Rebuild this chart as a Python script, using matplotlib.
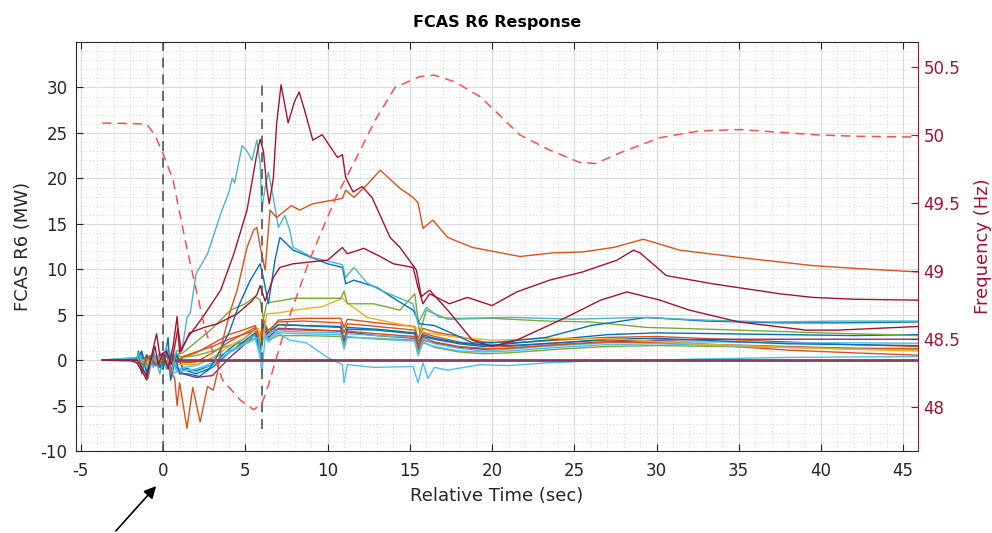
import matplotlib.pyplot as plt
from matplotlib.ticker import MultipleLocator

plt.rcParams['font.family'] = ['DejaVu Sans']
plt.rcParams['axes.unicode_minus'] = False

# MATLAB default line colours
BLU = '#0072BD'
ORA = '#D95319'
YEL = '#EDB120'
PUR = '#7E2F8E'
GRN = '#77AC30'
CYA = '#4DBEEE'
RED = '#A2142F'
TEAL = '#4AB6C6'

# ---- big individual responses (time s, MW) ----
red_big = [(-3.7, 0), (-2, 0), (-1.6, -0.3), (-1.2, -1.5), (-1.0, -2.2), (-0.8, -0.3),
           (-0.5, 1.5), (-0.3, -0.5), (0, 0.8), (0.3, -1), (0.6, 1.5), (0.85, 4.8),
           (1.0, 0.8), (1.5, 2.5), (2.4, 4.7), (3.5, 7.7), (4.3, 11.7), (5.1, 16.5),
           (5.7, 22.7), (5.9, 24.3), (6.1, 23), (6.3, 19), (6.45, 17.2), (6.7, 20),
           (6.9, 26), (7.17, 30.3), (7.6, 26.1), (8.0, 28.5), (8.27, 29.5), (8.6, 27.5),
           (9.1, 24.2), (9.67, 24.8), (10.6, 22.3), (10.9, 22.6), (11.1, 20.1),
           (11.55, 18.5), (12.1, 19.1), (12.7, 17.9), (13.8, 13.5), (14.4, 12.4),
           (15.4, 9.9), (15.7, 7.0), (16.2, 7.7), (17.3, 5.5), (18.8, 2.2), (20, 1.5),
           (21.5, 2.2), (24.5, 4.7), (26.6, 6.6), (28.2, 7.5), (30.2, 6.6), (32, 5.5),
           (35, 4.2), (39.1, 3.3), (41, 3.3), (45.9, 3.7)]

red_mid = [(-3.7, 0), (-1.6, 0), (-1.3, -0.8), (-1.0, -1.8), (-0.7, 0.5), (-0.4, 2.9),
           (-0.2, 0.5), (0.2, 1), (0.5, -0.5), (0.9, 3.5), (1.1, 1), (1.6, 3), (2.5, 3.6),
           (3.3, 4), (4.5, 5.1), (5.4, 6.5), (5.7, 7.2), (5.9, 8.2), (6.2, 6.5),
           (6.7, 9.1), (7.1, 10.2), (7.9, 10.6), (10, 11), (10.9, 12.4), (11.2, 11.7),
           (12.2, 12.3), (13.2, 11.4), (14, 10.6), (15.2, 10.2), (15.5, 8),
           (15.8, 6.2), (16.2, 7.3), (17.4, 6.2), (18.5, 6.9), (20, 6), (21.5, 7.5),
           (23.5, 8.8), (25.5, 9.7), (27.6, 11), (28.6, 12.1), (29, 11.8), (30.6, 9.3),
           (33.4, 8.4), (37.5, 7.3), (39.5, 6.9), (42, 6.7), (45.9, 6.6)]

orange_big = [(-3.7, 0), (-1.6, 0), (-1.2, -0.5), (-0.8, 0.5), (-0.4, -0.5), (0, 0.5),
              (0.4, -1), (0.7, -2), (0.85, -5), (1.0, -2.5), (1.45, -7.5), (1.8, -3),
              (2.25, -6.8), (2.7, -2.9), (3.05, -3.3), (3.3, -1.4), (3.6, 2), (4.1, 5.5),
              (4.5, 7.7), (5.1, 12.4), (5.5, 14.3), (5.7, 14.6), (5.9, 12.5), (6.2, 9.9),
              (6.5, 16.5), (6.9, 15.7), (7.8, 17), (8.3, 16.5), (9.1, 17.2), (10.9, 17.8),
              (11.1, 18.7), (11.6, 17.9), (12.5, 19.5), (13.2, 20.9), (14.4, 18.9),
              (15.2, 17.9), (15.5, 17.3), (15.8, 14.5), (16.4, 15.4), (17.3, 13.5),
              (18.8, 12.4), (21.7, 11.4), (23.7, 11.8), (25.5, 11.9), (27.4, 12.4),
              (29.2, 13.3), (31.4, 12.1), (35.5, 11.2), (39.5, 10.4), (42, 10.1),
              (45.9, 9.7)]

teal_big = [(-3.7, 0), (-1.6, 0), (-1.5, 0.8), (-1.2, -1), (-0.9, -2), (-0.6, 1),
            (-0.2, -1.5), (0.2, 1.5), (0.5, -1.5), (0.8, 1), (1.15, 1.1), (1.45, 4.7),
            (1.65, 5.2), (2.0, 9.5), (2.7, 11.7), (3.5, 16.1), (4.0, 18.5), (4.2, 20),
            (4.35, 19.5), (4.8, 23.6), (5.1, 23), (5.4, 22), (5.7, 24.2), (5.9, 21.6),
            (6.0, 16.5), (6.2, 19), (6.4, 20.7), (6.7, 17.9), (7.0, 14.6), (7.4, 15.9),
            (7.7, 14.3), (7.9, 12.4), (9.1, 11.3), (10.9, 10.5), (11.1, 9.1),
            (11.6, 10.2), (12.4, 8.5), (13.2, 7.7), (14.4, 6.8), (15.2, 6.2),
            (15.5, 4), (16, 5.8), (16.8, 4.7), (18, 4.6), (21.3, 4.7), (25, 4.5),
            (29, 4.7), (33, 4.4), (37, 4.2), (41, 4.3), (45.9, 4.3)]

blue_big = [(-3.7, 0), (-1.6, 0), (-1.5, 1.0), (-1.3, -1.5), (-1.0, 0.5), (-0.5, -0.5),
            (0, -1), (0.3, 2.5), (0.45, -2.2), (0.7, 0.5), (1, -1.5), (1.5, -1.5),
            (2.2, -1.8), (2.8, -1), (3.3, 0.5), (4, 3), (4.6, 6), (5.3, 8.8),
            (5.9, 10.6), (6.1, 9), (6.4, 6.2), (6.8, 11), (7.1, 13.5), (7.9, 12.1),
            (10, 10.6), (10.9, 10.2), (11.1, 8.4), (11.6, 8.8), (13, 8), (14.2, 6.6),
            (15.2, 5.5), (15.6, 4), (16.5, 3.8), (17.5, 3), (18.8, 1.9), (20, 1.9),
            (23.3, 2.5), (26, 3.8), (29.4, 4.7), (33, 4.3), (37.5, 4.1), (41, 4.1),
            (45.9, 4.2)]

green_top = [(-3.7, 0), (-1.6, 0), (-1.2, -0.8), (-0.8, 0.5), (0, -0.5), (0.5, 0.5),
             (1.2, 0.8), (2, 2), (3, 3.5), (4.1, 5.5), (5, 6.2), (5.6, 7), (5.9, 6.6),
             (6.1, 4.5), (6.3, 6.3), (7, 6.5), (8, 6.8), (10.8, 6.8), (11, 7.6),
             (11.2, 6.2), (12.8, 6.2), (14.4, 5.5), (15.3, 7.3), (15.6, 3), (16, 5.5),
             (17.3, 4.5), (20, 4.6), (23.3, 4.3), (26, 4.2), (29.4, 3.6), (35, 3.3),
             (40, 3), (45.9, 2.7)]

yellow = [(-3.7, 0), (-1.5, 0), (0, 0), (1, -0.5), (2, -0.5), (3, 0.3), (4, 1.5),
          (5, 2.5), (5.8, 3.5), (6.0, 1.5), (6.3, 5.1), (7, 5.2), (8, 5.5), (9.7, 5.9),
          (10.9, 6.8), (11.2, 6.3), (12.4, 4.7), (14.8, 3.8), (15.5, 3.5), (16, 3),
          (18, 2.5), (20, 2.2), (24, 2.4), (28, 2.3), (32, 1.8), (38, 1.4), (45.9, 1.0)]

cyan_low = [(-3.7, 0), (-1.5, 0.3), (-1, -0.8), (0, 0.5), (0.5, -1.5), (1, -1.2),
            (2, -1), (3, -0.5), (4, 0.8), (5, 1.8), (5.8, 2.5), (6.0, -1.5), (6.2, 2.5),
            (6.7, 3.3), (7.7, 2.2), (8.7, 1.9), (10, 0.3), (10.9, -0.5), (11.0, -2.5),
            (11.2, -0.5), (12.8, -0.8), (15.2, -0.7), (15.5, -2.5), (15.8, -0.3),
            (16.1, -2.0), (16.5, -0.8), (17.3, -1.1), (19.3, -0.5), (21, -0.6),
            (23.3, -0.3), (26, -0.1), (30, 0), (32, 0.1), (38, 0.3), (45.9, 0.4)]

# ---- bundle of smaller responses on a shared time base ----
t_bundle = [-3.7, -1.6, -1.3, -1.0, -0.6, -0.2, 0.2, 0.5, 0.8, 1.2, 2.0, 3.0, 4.0, 5.0,
            5.6, 5.9, 6.1, 6.4, 7.0, 8.5, 10.8, 11.0, 11.2, 13.0, 15.3, 15.5, 15.8, 16.5,
            18.0, 19.5, 21.0, 24.0, 27.0, 30.0, 34.0, 38.0, 42.0, 45.9]
b_orange1 = [0, 0, -0.4, 0.6, -0.3, 0.4, -0.6, 0.8, -0.5, 0.3, 0.8, 1.8, 2.8, 3.4, 3.8, 2.5,
             4.5, 3.0, 4.4, 4.6, 4.6, 3.6, 4.5, 4.1, 3.7, 2.4, 3.5, 3.1, 2.6, 2.0, 1.9, 2.2,
             2.5, 2.6, 2.3, 2.0, 1.7, 1.5]
b_orange2 = [0, 0, 0.3, -0.8, 0.5, -0.4, 0.6, -1.0, 0.4, -0.3, -0.2, 0.8, 2.0, 3.0, 3.6, 2.0,
             4.0, 3.3, 4.2, 4.3, 4.1, 3.0, 4.0, 3.7, 3.3, 2.0, 3.0, 2.6, 2.0, 1.6, 1.5, 1.9,
             2.2, 2.1, 1.6, 1.1, 0.8, 0.55]
b_blue1 = [0, 0.2, 1.0, -1.2, 0.8, -0.6, 1.2, -1.5, 0.5, -0.8, -1.2, -0.5, 1.2, 2.5, 3.4, 1.5,
           3.8, 2.8, 3.9, 3.8, 3.6, 2.0, 3.4, 3.3, 2.9, 1.5, 2.6, 2.3, 1.8, 1.5, 1.8, 2.3,
           2.8, 3.0, 2.9, 2.8, 2.7, 2.8]
b_purple = [0, 0, -0.3, 0.4, -0.2, 0.3, -0.5, 0.2, -0.8, -1.5, -1.9, -1.7, 0.2, 1.8, 2.8, 1.0,
            3.4, 2.5, 3.5, 3.4, 3.2, 2.0, 3.1, 2.7, 2.4, 1.2, 2.2, 1.9, 1.4, 1.2, 1.3, 1.7,
            2.0, 2.2, 2.3, 2.3, 2.3, 2.3]
b_cyan1 = [0, -0.2, 0.5, -0.9, 0.3, 0.6, -1.0, 1.0, -0.7, -1.2, -1.0, -0.3, 0.8, 2.0, 2.8, 0.5,
           3.1, 2.3, 3.2, 3.1, 3.0, 1.5, 2.9, 2.7, 2.5, 0.8, 2.3, 1.8, 1.3, 1.0, 1.2, 1.6,
           1.9, 2.0, 2.0, 1.9, 1.9, 1.85]
b_green = [0, 0, 0.2, -0.5, 0.3, -0.2, 0.4, -0.3, 0.6, 0.3, 0.5, 1.0, 1.6, 2.0, 2.4, 1.0,
           2.6, 2.2, 2.7, 2.7, 2.6, 1.8, 2.5, 2.4, 2.2, 0.8, 2.0, 1.4, 0.9, 0.7, 0.8, 1.2,
           1.5, 1.6, 1.5, 1.4, 1.3, 1.3]
b_blue2 = [0, 0, 0.8, -1.5, 0.6, -0.8, 0.9, -2.0, 0.8, -1.0, -1.5, -0.8, 0.8, 2.2, 3.0, 1.2,
           4.0, 3.0, 3.9, 3.8, 3.7, 2.2, 3.6, 3.4, 3.0, 1.6, 2.8, 2.4, 1.9, 1.7, 1.6, 1.9,
           2.3, 2.4, 2.1, 1.8, 1.7, 1.6]
b_orange3 = [0, 0, -0.2, 0.5, -0.6, 0.3, -0.4, 0.6, -0.2, 0.4, 0.9, 1.5, 2.3, 2.9, 3.3, 2.2,
             3.5, 3.1, 3.4, 3.3, 3.2, 2.4, 3.2, 2.9, 2.6, 1.5, 2.5, 2.0, 1.5, 1.3, 1.3, 1.7,
             2.0, 1.9, 1.7, 1.5, 1.3, 1.2]
b_cyan2 = [0, 0.3, -0.5, 0.2, -0.8, 0.9, -0.5, 0.4, -1.2, -0.8, -0.6, 0.2, 1.0, 1.8, 2.4, 0.3,
           2.8, 2.0, 3.0, 2.9, 2.8, 1.2, 2.6, 2.3, 2.1, 0.5, 1.9, 1.5, 1.0, 0.9, 1.0, 1.4,
           1.7, 1.8, 1.6, 1.4, 1.2, 1.1]

# units that never responded (flat at zero)
t_zero = [0.8, 45.9]
y_zero = [0, 0]

# system frequency (Hz)
freq = [(-3.7, 50.088), (-2, 50.085), (-1.0, 50.08), (-0.5, 50.0), (0, 49.86), (0.6, 49.67),
        (1.4, 49.19), (2.55, 48.57), (3.6, 48.2), (4.7, 48.05), (5.5, 47.98), (6.0, 48.02),
        (6.4, 48.16), (7.4, 48.57), (8.9, 49.08), (10.5, 49.54), (11.7, 49.82), (12.9, 50.11),
        (14.1, 50.35), (15.6, 50.43), (16.5, 50.44), (17.75, 50.39), (19.3, 50.28),
        (21.7, 50.0), (23.5, 49.89), (25.3, 49.80), (26.3, 49.79), (27.8, 49.87),
        (30.2, 49.98), (32.6, 50.03), (35.1, 50.04), (37.5, 50.02), (39.9, 50.0),
        (42.4, 49.99), (45.9, 49.985)]

event_t = [0, 6]
event_lo = [-10, -7.6]
event_hi = [35, 30.4]

x_ticks = list(range(-5, 50, 5))
y_ticks = list(range(-10, 35, 5))
f_ticks = [48, 48.5, 49, 49.5, 50, 50.5]

fig = plt.figure(figsize=(9.92, 5.33), dpi=100)
ax = fig.add_axes([0.0766, 0.1538, 0.8488, 0.7674])

LW = 1.0
for ys, c in [(b_orange1, ORA), (b_orange2, ORA), (b_blue1, BLU), (b_purple, PUR),
              (b_cyan1, CYA), (b_green, GRN), (b_blue2, BLU), (b_orange3, ORA),
              (b_cyan2, CYA)]:
    ax.plot(t_bundle, ys, color=c, lw=LW)

for pts, c in [(yellow, YEL), (cyan_low, CYA), (green_top, GRN), (blue_big, BLU),
               (teal_big, TEAL), (orange_big, ORA), (red_mid, RED), (red_big, RED)]:
    tt, yy = zip(*pts)
    ax.plot(tt, yy, color=c, lw=LW)

ax.plot(t_zero, y_zero, color='#8E3A5A', lw=2.0)

for t, lo, hi in zip(event_t, event_lo, event_hi):
    ax.plot([t, t], [lo, hi], color='#555555', lw=1.2, linestyle=(0, (6, 4)))

ax.set_xlim(-5.3, 45.9)
ax.set_ylim(-10, 35)
ax.set_xticks(x_ticks)
ax.set_yticks(y_ticks)
ax.xaxis.set_minor_locator(MultipleLocator(1))
ax.yaxis.set_minor_locator(MultipleLocator(1))
ax.grid(which='major', color='#DDDDDD', lw=0.9)
ax.grid(which='minor', color='#C8C8C8', lw=0.6, linestyle=(0, (1, 3)))
ax.set_axisbelow(True)
ax.tick_params(which='major', direction='in', length=5, top=True, right=False,
               labelsize=12, colors='#262626', width=0.8)
ax.tick_params(axis='x', which='major', pad=8)
ax.tick_params(axis='y', which='major', pad=6)
ax.tick_params(which='minor', length=0)
for s in ['left', 'top', 'bottom']:
    ax.spines[s].set_color('#262626')
ax.spines['right'].set_visible(False)
ax.set_xlabel('Relative Time (sec)', fontsize=13, color='#262626', labelpad=5)
ax.set_ylabel('FCAS R6 (MW)', fontsize=13, color='#262626', labelpad=6)
ax.set_title('FCAS R6 Response', fontsize=11.5, fontweight='bold', pad=11)

ax2 = ax.twinx()
ft, fv = zip(*freq)
ax2.plot(ft, fv, color='#FF4D4D', lw=1.1, linestyle=(0, (6, 4)))
ax2.set_ylim(47.676, 50.684)
ax2.set_yticks(f_ticks)
ax2.set_yticklabels([f'{v:g}' for v in f_ticks])
ax2.tick_params(direction='in', length=5, labelsize=12, colors=RED, width=0.8, pad=4)
ax2.spines['right'].set_color(RED)
for s in ['left', 'top', 'bottom']:
    ax2.spines[s].set_visible(False)
ax2.set_ylabel('Frequency (Hz)', fontsize=13, color=RED, labelpad=10)

ax.annotate('', xy=(158, 49), xycoords='figure pixels', xytext=(114, 0),
            textcoords='figure pixels', annotation_clip=False,
            arrowprops=dict(arrowstyle='-|>', color='black', lw=1.2, mutation_scale=18))

fig.savefig('out.png', dpi=100)
